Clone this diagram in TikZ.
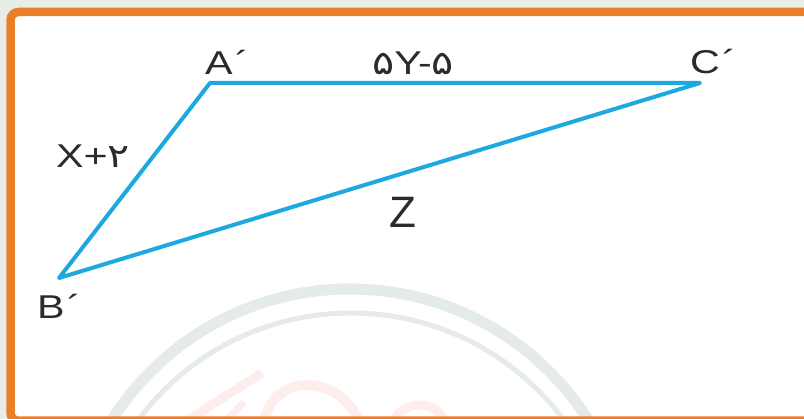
\documentclass[tikz,border=0pt]{standalone}
\usepackage{fontspec}
\setmainfont{Liberation Sans}
\newfontfamily\pf{DejaVu Sans}
\definecolor{bgout}{HTML}{E8EDE9}
\definecolor{frameor}{HTML}{E8802A}
\definecolor{tri}{HTML}{1DA8E0}
\definecolor{wmgray}{HTML}{E5EAEA}
\definecolor{wmpink}{HTML}{FDEDED}
\definecolor{txt}{HTML}{2B2B2B}
\newcommand{\wide}[1]{\scalebox{1.25}[1]{#1}}
\begin{document}
\begin{tikzpicture}[x=1pt,y=-1pt,
  lbl/.style={font=\fontsize{33}{35}\selectfont, text=txt, inner sep=0pt, anchor=base west},
  side/.style={draw=tri, line width=4pt, line join=round}]
\useasboundingbox (0,0) rectangle (804,419);
\fill[bgout] (0,0) rectangle (804,419);
\begin{scope}
\clip (0,0) rectangle (804,419);
\fill[white, rounded corners=8pt] (10.5,12) rectangle (850,420.75);
\begin{scope}
\clip (14,16) rectangle (804,416.5);
\draw[wmgray, line width=11pt] (350,571) circle[radius=282];
\draw[wmgray, line width=5pt] (351,578) circle[radius=265];
\draw[wmpink, line width=9pt] (262,373) -- (180,425);
\draw[wmpink, line width=7pt] (244,402) -- (222,425);
\draw[wmpink, line width=10pt] (263,425) .. controls (268,395) and (290,385) .. (307,385) .. controls (330,385) and (352,400) .. (360,425);
\draw[wmpink, line width=9pt] (392,425) .. controls (398,410) and (408,405) .. (420,405) .. controls (432,405) and (442,412) .. (447,425);
\end{scope}
\draw[frameor, line width=8.5pt, rounded corners=8pt] (10.5,12) rectangle (850,420.75);
\end{scope}
\coordinate (A) at (210,83);
\coordinate (C) at (700,83);
\coordinate (B) at (59,278);
\draw[side] (A) -- (C) -- (B) -- cycle;
\node[lbl] (lA) at (205,75) {\wide{A\kern2pt´}};
\node[lbl] (lAC) at (372,75) {\wide{{\pf ۵}Y-{\pf ۵}}};
\node[lbl] (lC) at (690,74) {\wide{C\kern2pt´}};
\node[lbl] (lAB) at (56,168) {\wide{X+{\pf ۲}}};
\node[lbl, font=\fontsize{44}{46}\selectfont] (lBC) at (389,228) {Z};
\node[lbl] (lB) at (37,319) {\wide{B\kern2pt´}};
\end{tikzpicture}
\end{document}
